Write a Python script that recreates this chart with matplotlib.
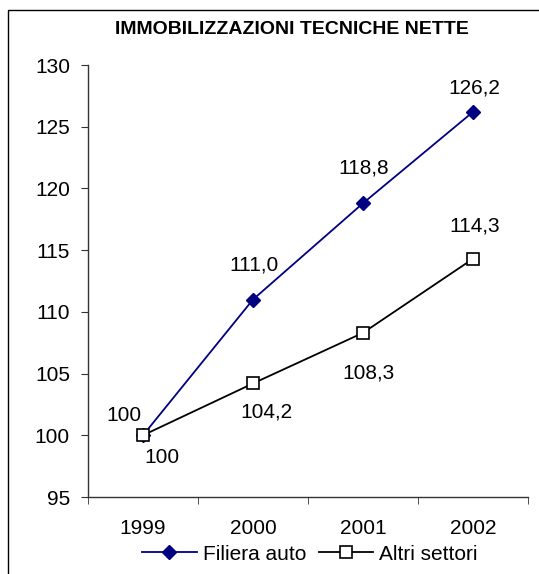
import matplotlib
matplotlib.use("Agg")
import matplotlib.pyplot as plt
from matplotlib.patches import Rectangle

years = ["1999", "2000", "2001", "2002"]
filiera = [100, 111.0, 118.8, 126.2]
altri = [100, 104.2, 108.3, 114.3]
filiera_labels = ["100", "111,0", "118,8", "126,2"]
altri_labels = ["100", "104,2", "108,3", "114,3"]
yticks = [95, 100, 105, 110, 115, 120, 125, 130]

plt.rcParams['font.family'] = ['Liberation Sans', 'DejaVu Sans']

fig = plt.figure(figsize=(5.39, 5.74), dpi=100)
ax = fig.add_axes([88/539, 1-497/574, (528-88)/539, (497-65)/574])

x = list(range(len(years)))
ax.plot(x, filiera, color='#000080', lw=1.3, marker='D', ms=7,
        mfc='#000080', mec='#000080', label='Filiera auto', zorder=3)
ax.plot(x, altri, color='black', lw=1.3, marker='s', ms=8,
        mfc='white', mec='black', mew=1.2, label='Altri settori', zorder=4)

fs = 15
half = 7.5  # half digit height in px
# visible-centre offsets of the labels in pixels (dx, dy up)
f_off = [(-19, 22), (1, 37), (1, 37), (1, 26)]
a_off = [(19, -20), (13, -27), (6, -38), (2, 35)]
for i in x:
    dx, dy = f_off[i]
    ax.annotate(filiera_labels[i], (i, filiera[i]), xytext=(dx, dy - half),
                textcoords='offset pixels', ha='center', va='baseline', fontsize=fs)
    dx, dy = a_off[i]
    ax.annotate(altri_labels[i], (i, altri[i]), xytext=(dx, dy - half),
                textcoords='offset pixels', ha='center', va='baseline', fontsize=fs)

ax.set_xlim(-0.5, 3.5)
ax.set_ylim(95, 130)
ax.set_yticks(yticks)
ax.set_yticklabels([str(v) for v in yticks], fontsize=fs)
ax.set_xticks(x)
ax.set_xticklabels(years, fontsize=fs)
ax.tick_params(axis='x', which='major', length=0, pad=16)
ax.set_xticks([-0.5, 0.5, 1.5, 2.5, 3.5], minor=True)
ax.tick_params(axis='x', which='minor', length=5, direction='out', color='#333333')
ax.tick_params(axis='y', length=5, direction='out', color='#333333', pad=8)
for s in ['top', 'right']:
    ax.spines[s].set_visible(False)
for s in ['left', 'bottom']:
    ax.spines[s].set_color('#333333')
    ax.spines[s].set_linewidth(1.0)

fig.text(292/539, 1-30/574, "IMMOBILIZZAZIONI TECNICHE NETTE", ha='center', va='center',
         fontsize=14, fontweight='bold')

leg = fig.legend(loc='center', bbox_to_anchor=(310/539, 1-554/574), ncol=2, frameon=False,
                 fontsize=fs, handlelength=2.6, handletextpad=0.3, columnspacing=0.6,
                 borderaxespad=0)

fig.patches.append(Rectangle((8/539, -0.05), 1.2, 1.05 - 10/574, transform=fig.transFigure,
                             fill=False, edgecolor='black', lw=1.0))

fig.savefig("out.png", dpi=100)
